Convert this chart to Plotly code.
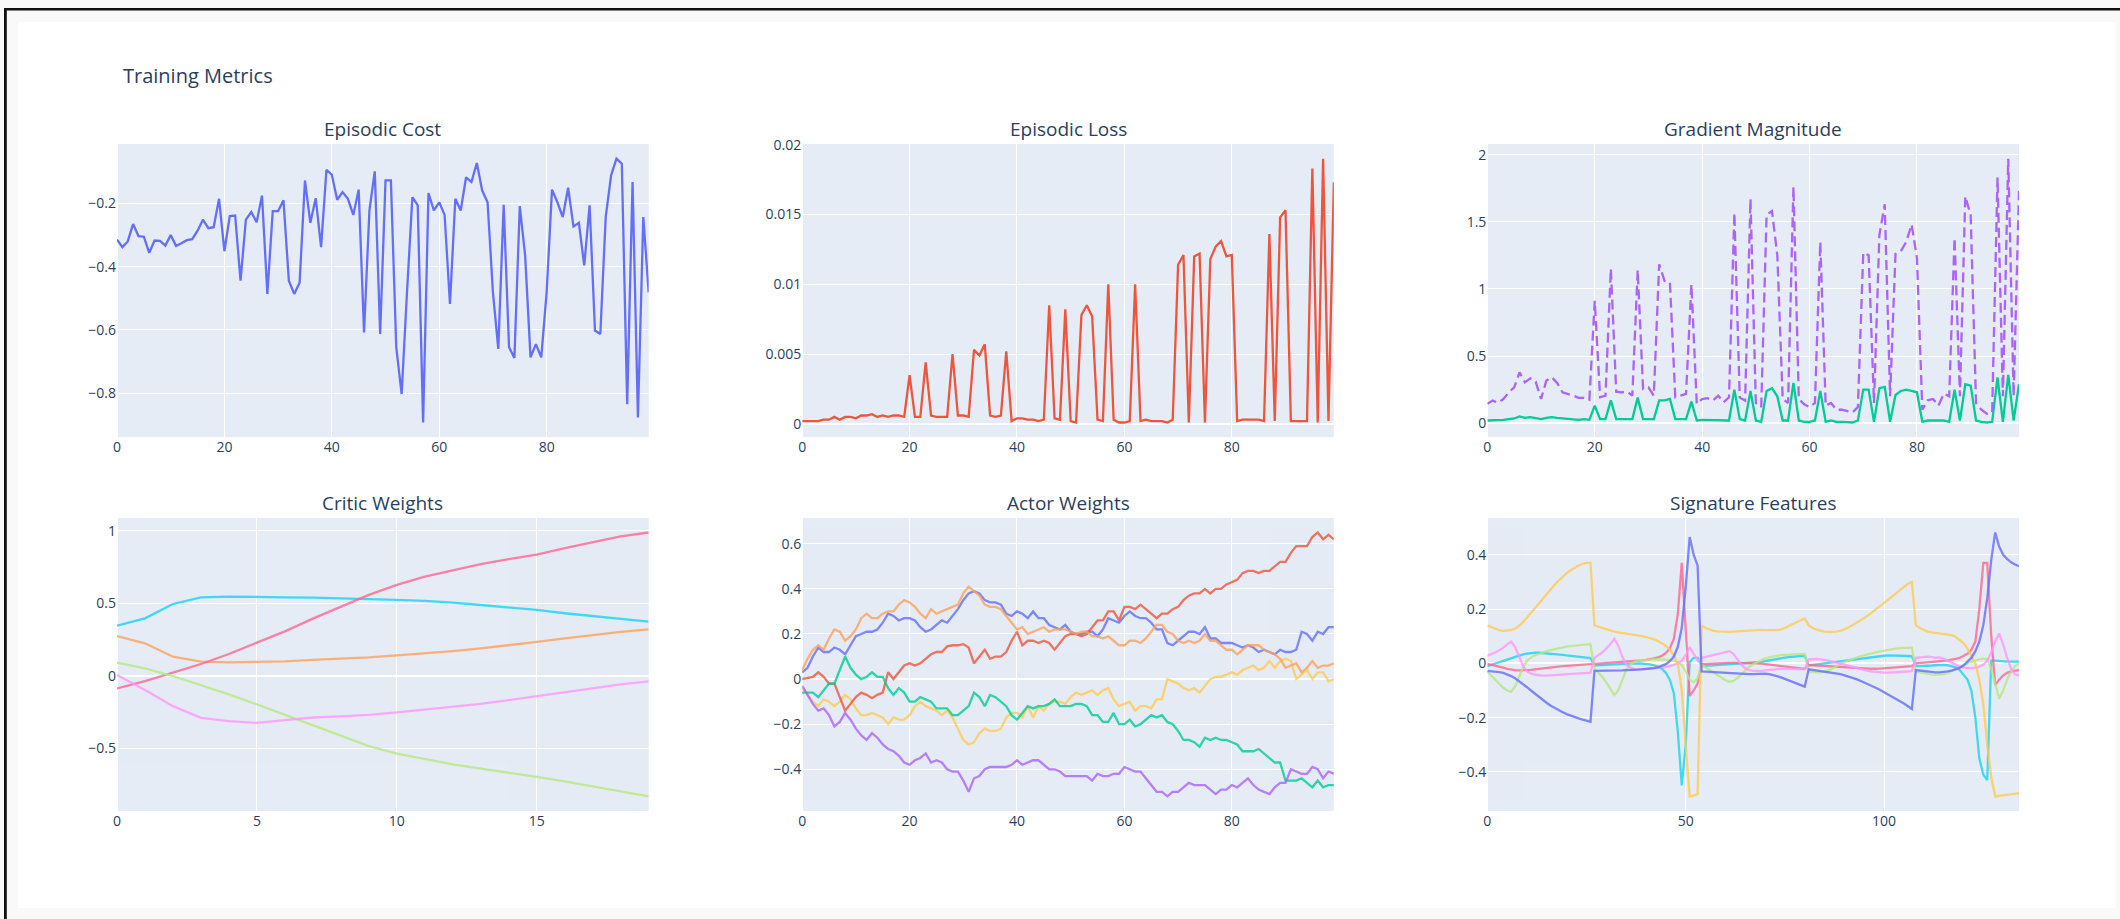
import plotly.graph_objects as go
from plotly.subplots import make_subplots

# ---------------- data ----------------
episodic_cost = [
    -0.314, -0.338, -0.32, -0.265, -0.303, -0.305, -0.356, -0.317, -0.318, -0.333,
    -0.30, -0.334, -0.326, -0.316, -0.313, -0.286, -0.251, -0.278, -0.275, -0.185,
    -0.351, -0.24, -0.238, -0.444, -0.251, -0.227, -0.259, -0.175, -0.486, -0.224,
    -0.224, -0.19, -0.444, -0.486, -0.451, -0.127, -0.261, -0.183, -0.338, -0.093,
    -0.109, -0.188, -0.164, -0.185, -0.236, -0.156, -0.608, -0.222, -0.098, -0.613,
    -0.127, -0.127, -0.655, -0.803, -0.481, -0.18, -0.206, -0.893, -0.167, -0.222,
    -0.196, -0.236, -0.518, -0.185, -0.222, -0.117, -0.132, -0.072, -0.159, -0.196,
    -0.481, -0.66, -0.204, -0.655, -0.689, -0.208, -0.365, -0.687, -0.645, -0.687,
    -0.481, -0.156, -0.196, -0.243, -0.15, -0.273, -0.261, -0.396, -0.206, -0.602,
    -0.613, -0.243, -0.111, -0.058, -0.074, -0.835, -0.132, -0.877, -0.243, -0.481,
]

episodic_loss = [
    0.0002, 0.0002, 0.0002, 0.0002, 0.0003, 0.0003, 0.0005, 0.0003, 0.0005, 0.0005,
    0.0004, 0.0006, 0.0006, 0.0007, 0.0005, 0.0006, 0.0005, 0.0006, 0.0006, 0.0005,
    0.0035, 0.0005, 0.0005, 0.0044, 0.0006, 0.0005, 0.0005, 0.0005, 0.0050, 0.0006,
    0.0006, 0.0005, 0.0053, 0.0049, 0.0057, 0.0006, 0.0005, 0.0006, 0.0052, 0.0002,
    0.0004, 0.0004, 0.0003, 0.0003, 0.0002, 0.0003, 0.0085, 0.0004, 0.0003, 0.0082,
    0.0002, 0.0001, 0.0078, 0.0085, 0.0077, 0.0003, 0.0002, 0.0100, 0.0003, 0.0001,
    0.0001, 0.0002, 0.0100, 0.0002, 0.0003, 0.0002, 0.0002, 0.0002, 0.0001, 0.0003,
    0.0114, 0.0121, 0.0001, 0.0120, 0.0122, 0.0001, 0.0118, 0.0127, 0.0131, 0.0120,
    0.0121, 0.0002, 0.0003, 0.0003, 0.0003, 0.0003, 0.0002, 0.0136, 0.0002, 0.0148,
    0.0153, 0.0002, 0.0002, 0.0002, 0.0002, 0.0183, 0.0001, 0.0190, 0.0002, 0.0173,
]

critic_grad = [
    0.02, 0.02, 0.02, 0.025, 0.03, 0.035, 0.05, 0.04, 0.045, 0.04,
    0.03, 0.04, 0.045, 0.04, 0.035, 0.03, 0.03, 0.025, 0.03, 0.025,
    0.13, 0.03, 0.03, 0.17, 0.03, 0.03, 0.03, 0.03, 0.19, 0.03,
    0.03, 0.03, 0.17, 0.17, 0.18, 0.03, 0.03, 0.03, 0.16, 0.02,
    0.025, 0.025, 0.02, 0.025, 0.02, 0.02, 0.25, 0.03, 0.02, 0.24,
    0.02, 0.01, 0.24, 0.26, 0.20, 0.02, 0.02, 0.30, 0.02, 0.01,
    0.01, 0.02, 0.24, 0.01, 0.02, 0.01, 0.01, 0.01, 0.005, 0.02,
    0.25, 0.25, 0.01, 0.26, 0.27, 0.01, 0.21, 0.24, 0.25, 0.24,
    0.23, 0.01, 0.02, 0.02, 0.02, 0.02, 0.01, 0.25, 0.02, 0.29,
    0.28, 0.02, 0.01, 0.005, 0.01, 0.34, 0.01, 0.36, 0.02, 0.29,
]

actor_grad = [
    0.144, 0.168, 0.151, 0.18, 0.23, 0.267, 0.379, 0.304, 0.334, 0.31,
    0.18, 0.317, 0.342, 0.30, 0.23, 0.218, 0.205, 0.188, 0.188, 0.173,
    0.911, 0.193, 0.205, 1.151, 0.235, 0.23, 0.235, 0.205, 1.141, 0.255,
    0.267, 0.205, 1.183, 1.06, 1.05, 0.193, 0.205, 0.218, 1.035, 0.144,
    0.18, 0.186, 0.168, 0.205, 0.156, 0.193, 1.567, 0.19, 0.168, 1.67,
    0.15, 0.12, 1.55, 1.58, 1.25, 0.18, 0.15, 1.76, 0.18, 0.14,
    0.12, 0.15, 1.35, 0.13, 0.15, 0.10, 0.10, 0.09, 0.08, 0.12,
    1.27, 1.25, 0.15, 1.40, 1.63, 0.20, 1.26, 1.28, 1.35, 1.48,
    1.23, 0.10, 0.17, 0.18, 0.13, 0.22, 0.20, 1.38, 0.20, 1.69,
    1.55, 0.15, 0.10, 0.07, 0.08, 1.83, 0.20, 1.97, 0.20, 1.73,
]

critic_w1 = [0.274, 0.224, 0.131, 0.097, 0.092, 0.094, 0.099, 0.11, 0.117, 0.127,
             0.14, 0.154, 0.17, 0.189, 0.21, 0.233, 0.258, 0.281, 0.302, 0.32]
critic_w2 = [0.346, 0.396, 0.495, 0.541, 0.546, 0.546, 0.541, 0.539, 0.535, 0.53,
             0.523, 0.516, 0.505, 0.488, 0.472, 0.454, 0.431, 0.412, 0.392, 0.373]
critic_w3 = [-0.088, -0.037, 0.021, 0.081, 0.15, 0.226, 0.306, 0.394, 0.477, 0.558,
             0.627, 0.684, 0.726, 0.77, 0.804, 0.836, 0.88, 0.919, 0.961, 0.988]
critic_w4 = [0.09, 0.051, -0.002, -0.065, -0.129, -0.198, -0.27, -0.341, -0.417, -0.486,
             -0.537, -0.576, -0.611, -0.641, -0.668, -0.698, -0.728, -0.76, -0.797, -0.832]
critic_w5 = [0.005, -0.099, -0.21, -0.29, -0.313, -0.325, -0.306, -0.288, -0.281, -0.27,
             -0.253, -0.233, -0.214, -0.194, -0.168, -0.141, -0.111, -0.085, -0.06, -0.039]

actor_w1 = [
    -0.04, -0.07, -0.10, -0.12, -0.09, -0.10, -0.12, -0.10, -0.07, -0.09,
    -0.13, -0.16, -0.16, -0.15, -0.16, -0.17, -0.20, -0.17, -0.18, -0.18,
    -0.16, -0.12, -0.10, -0.12, -0.13, -0.14, -0.16, -0.14, -0.17, -0.22,
    -0.27, -0.29, -0.28, -0.24, -0.22, -0.23, -0.23, -0.22, -0.17, -0.15,
    -0.15, -0.17, -0.12, -0.17, -0.12, -0.14, -0.11, -0.10, -0.10, -0.11,
    -0.08, -0.06, -0.07, -0.06, -0.05, -0.07, -0.05, -0.04, -0.09, -0.12,
    -0.11, -0.10, -0.14, -0.12, -0.12, -0.13, -0.09, -0.09, 0.00, -0.01,
    -0.02, -0.04, -0.05, -0.04, -0.06, -0.03, 0.00, 0.01, 0.01, 0.02,
    0.03, 0.02, 0.04, 0.05, 0.06, 0.04, 0.05, 0.08, 0.05, 0.08,
    0.09, 0.08, 0.00, 0.02, 0.04, 0.00, 0.03, 0.03, -0.01, 0.00,
]
actor_w2 = [
    0.03, 0.05, 0.10, 0.14, 0.12, 0.12, 0.14, 0.13, 0.11, 0.15,
    0.19, 0.20, 0.21, 0.21, 0.22, 0.25, 0.29, 0.28, 0.26, 0.27,
    0.27, 0.26, 0.23, 0.21, 0.22, 0.24, 0.26, 0.25, 0.28, 0.31,
    0.35, 0.38, 0.39, 0.38, 0.35, 0.34, 0.34, 0.33, 0.29, 0.28,
    0.30, 0.29, 0.27, 0.30, 0.27, 0.27, 0.24, 0.23, 0.22, 0.24,
    0.21, 0.20, 0.20, 0.21, 0.21, 0.19, 0.22, 0.27, 0.26, 0.25,
    0.28, 0.30, 0.28, 0.27, 0.27, 0.25, 0.22, 0.22, 0.16, 0.15,
    0.17, 0.19, 0.21, 0.21, 0.20, 0.23, 0.18, 0.18, 0.16, 0.16,
    0.16, 0.15, 0.14, 0.15, 0.14, 0.12, 0.13, 0.12, 0.11, 0.13,
    0.12, 0.12, 0.13, 0.21, 0.20, 0.17, 0.21, 0.20, 0.23, 0.23,
]
actor_w3 = [
    0.00, 0.005, 0.01, 0.03, 0.01, -0.02, -0.02, -0.08, -0.14, -0.11,
    -0.08, -0.06, -0.07, -0.085, -0.07, -0.06, 0.03, 0.00, 0.03, 0.06,
    0.07, 0.06, 0.07, 0.09, 0.11, 0.12, 0.12, 0.145, 0.15, 0.15,
    0.155, 0.14, 0.07, 0.10, 0.13, 0.09, 0.10, 0.10, 0.12, 0.17,
    0.21, 0.15, 0.17, 0.17, 0.16, 0.17, 0.16, 0.13, 0.16, 0.19,
    0.20, 0.20, 0.19, 0.20, 0.23, 0.26, 0.26, 0.30, 0.30, 0.26,
    0.32, 0.32, 0.31, 0.33, 0.31, 0.29, 0.27, 0.29, 0.29, 0.31,
    0.32, 0.35, 0.37, 0.38, 0.38, 0.40, 0.38, 0.40, 0.40, 0.42,
    0.43, 0.44, 0.47, 0.48, 0.48, 0.47, 0.48, 0.48, 0.50, 0.52,
    0.52, 0.56, 0.59, 0.59, 0.59, 0.63, 0.65, 0.62, 0.64, 0.62,
]
actor_w4 = [
    -0.06, -0.06, -0.06, -0.08, -0.05, -0.02, -0.02, 0.04, 0.10, 0.05,
    0.02, 0.00, 0.01, 0.03, 0.01, 0.01, -0.04, -0.07, -0.04, -0.06,
    -0.10, -0.10, -0.08, -0.09, -0.10, -0.13, -0.13, -0.13, -0.16, -0.16,
    -0.14, -0.12, -0.06, -0.08, -0.12, -0.07, -0.08, -0.10, -0.12, -0.16,
    -0.18, -0.15, -0.12, -0.13, -0.12, -0.12, -0.11, -0.09, -0.12, -0.12,
    -0.12, -0.11, -0.11, -0.12, -0.16, -0.16, -0.19, -0.19, -0.15, -0.20,
    -0.20, -0.18, -0.21, -0.20, -0.18, -0.16, -0.17, -0.16, -0.19, -0.20,
    -0.23, -0.27, -0.27, -0.28, -0.30, -0.26, -0.27, -0.26, -0.27, -0.27,
    -0.28, -0.29, -0.32, -0.32, -0.32, -0.31, -0.33, -0.35, -0.37, -0.37,
    -0.45, -0.45, -0.45, -0.44, -0.46, -0.48, -0.45, -0.48, -0.47, -0.47,
]
actor_w5 = [
    -0.03, -0.07, -0.11, -0.14, -0.13, -0.16, -0.21, -0.19, -0.15, -0.18,
    -0.22, -0.25, -0.27, -0.24, -0.26, -0.29, -0.31, -0.32, -0.34, -0.37,
    -0.38, -0.36, -0.35, -0.33, -0.37, -0.36, -0.37, -0.40, -0.41, -0.41,
    -0.45, -0.50, -0.44, -0.43, -0.40, -0.39, -0.39, -0.39, -0.39, -0.38,
    -0.36, -0.38, -0.37, -0.36, -0.36, -0.38, -0.40, -0.40, -0.41, -0.43,
    -0.43, -0.43, -0.43, -0.43, -0.45, -0.42, -0.43, -0.43, -0.42, -0.42,
    -0.39, -0.40, -0.41, -0.41, -0.44, -0.47, -0.50, -0.50, -0.52, -0.50,
    -0.50, -0.48, -0.46, -0.47, -0.47, -0.47, -0.49, -0.51, -0.49, -0.49,
    -0.47, -0.48, -0.46, -0.44, -0.47, -0.49, -0.50, -0.51, -0.48, -0.46,
    -0.46, -0.40, -0.41, -0.42, -0.42, -0.39, -0.40, -0.44, -0.41, -0.42,
]
actor_w6 = [
    0.04, 0.09, 0.13, 0.15, 0.13, 0.18, 0.22, 0.21, 0.17, 0.19,
    0.22, 0.27, 0.29, 0.27, 0.27, 0.29, 0.30, 0.30, 0.33, 0.35,
    0.34, 0.32, 0.29, 0.27, 0.31, 0.29, 0.30, 0.31, 0.32, 0.33,
    0.38, 0.41, 0.39, 0.37, 0.33, 0.32, 0.32, 0.31, 0.28, 0.25,
    0.22, 0.23, 0.20, 0.21, 0.22, 0.23, 0.21, 0.22, 0.22, 0.22,
    0.21, 0.20, 0.21, 0.21, 0.19, 0.19, 0.18, 0.19, 0.17, 0.15,
    0.15, 0.17, 0.17, 0.16, 0.18, 0.21, 0.24, 0.24, 0.21, 0.20,
    0.17, 0.16, 0.17, 0.16, 0.17, 0.20, 0.17, 0.17, 0.15, 0.13,
    0.13, 0.11, 0.13, 0.15, 0.15, 0.15, 0.13, 0.12, 0.11, 0.09,
    0.05, 0.06, 0.07, 0.03, 0.05, 0.08, 0.05, 0.06, 0.06, 0.07,
]

sig_f1 = [
    -0.01, -0.006, -0.001, 0.004, 0.009, 0.014, 0.019, 0.024, 0.029, 0.033,
    0.036, 0.038, 0.039, 0.039, 0.038, 0.037, 0.035, 0.034, 0.032, 0.031,
    0.029, 0.027, 0.026, 0.024, 0.022, 0.02, 0.019,
    -0.008, -0.008, -0.007, -0.006, -0.005, -0.004, -0.003, -0.002, -0.001, 0.0,
    0.0, 0.0, -0.001, -0.002, -0.004, -0.007, -0.012, -0.02, -0.035, -0.06,
    -0.11, -0.25, -0.45, -0.3, 0.005, 0.02, 0.02,
    -0.01, -0.009, -0.008, -0.007, -0.006, -0.005, -0.004, -0.003, -0.002, -0.001,
    0.0, 0.0, 0.0, 0.001, 0.003, 0.005, 0.008, 0.011, 0.014, 0.017,
    0.019, 0.021, 0.023, 0.025, 0.026, 0.027, 0.028,
    -0.008, -0.006, -0.004, -0.002, 0.0, 0.002, 0.004, 0.006, 0.008, 0.01,
    0.012, 0.014, 0.016, 0.018, 0.02, 0.022, 0.024, 0.026, 0.027, 0.028,
    0.029, 0.029, 0.029, 0.029, 0.028, 0.027, 0.026,
    -0.01, -0.01, -0.01, -0.009, -0.008, -0.007, -0.006, -0.006, -0.007, -0.01,
    -0.015, -0.024, -0.04, -0.06, -0.1, -0.2, -0.35, -0.41, -0.43, 0.01,
    0.01, 0.008, 0.007, 0.006, 0.006, 0.006, 0.006,
]
sig_f2 = [
    -0.002, -0.005, -0.008, -0.012, -0.016, -0.02, -0.023, -0.025, -0.026, -0.026,
    -0.025, -0.024, -0.022, -0.02, -0.018, -0.016, -0.014, -0.012, -0.011, -0.01,
    -0.009, -0.008, -0.007, -0.006, -0.005, -0.004, -0.004,
    -0.002, -0.001, 0.0, 0.001, 0.002, 0.003, 0.004, 0.005, 0.006, 0.007,
    0.008, 0.01, 0.011, 0.013, 0.015, 0.018, 0.022, 0.028, 0.038, 0.055,
    0.09, 0.18, 0.37, 0.1, -0.12, -0.1, -0.075,
    -0.003, -0.002, -0.001, 0.0, 0.001, 0.002, 0.002, 0.002, 0.002, 0.002,
    0.002, 0.001, 0.001, 0.0, 0.0, -0.001, -0.003, -0.005, -0.007, -0.009,
    -0.011, -0.013, -0.015, -0.017, -0.018, -0.019, -0.02,
    -0.006, -0.007, -0.008, -0.009, -0.01, -0.011, -0.012, -0.013, -0.014, -0.015,
    -0.016, -0.017, -0.018, -0.019, -0.019, -0.02, -0.02, -0.02, -0.019, -0.019,
    -0.018, -0.017, -0.016, -0.015, -0.014, -0.012, -0.01,
    0.0, 0.001, 0.002, 0.003, 0.004, 0.005, 0.007, 0.009, 0.011, 0.013,
    0.016, 0.02, 0.026, 0.035, 0.05, 0.08, 0.2, 0.37, 0.37, 0.1,
    -0.08, -0.06, -0.045, -0.035, -0.03, -0.028, -0.025,
]
sig_f3 = [
    -0.03, -0.045, -0.06, -0.075, -0.09, -0.1, -0.105, -0.085, -0.05, -0.015,
    0.01, 0.022, 0.03, 0.036, 0.041, 0.045, 0.049, 0.053, 0.056, 0.059,
    0.062, 0.064, 0.066, 0.068, 0.069, 0.07, 0.07,
    -0.02, -0.035, -0.05, -0.07, -0.095, -0.117, -0.1, -0.06, -0.025, -0.005,
    0.005, 0.01, 0.012, 0.013, 0.014, 0.015, 0.015, 0.015, 0.014, 0.012,
    0.01, 0.005, -0.005, -0.03, -0.06, -0.07, -0.055,
    -0.005, -0.015, -0.025, -0.035, -0.045, -0.055, -0.062, -0.068, -0.065, -0.055,
    -0.04, -0.025, -0.012, -0.003, 0.005, 0.012, 0.018, 0.022, 0.026, 0.028,
    0.03, 0.031, 0.032, 0.033, 0.034, 0.034, 0.035,
    -0.03, -0.032, -0.033, -0.033, -0.03, -0.025, -0.018, -0.01, -0.003, 0.004,
    0.01, 0.016, 0.021, 0.026, 0.03, 0.034, 0.038, 0.041, 0.044, 0.047,
    0.05, 0.052, 0.054, 0.056, 0.057, 0.058, 0.058,
    -0.03, -0.033, -0.036, -0.039, -0.041, -0.042, -0.042, -0.04, -0.036, -0.03,
    -0.022, -0.014, -0.006, 0.0, 0.006, 0.011, 0.015, 0.017, 0.015, -0.02,
    -0.08, -0.13, -0.1, -0.06, -0.03, -0.01, 0.0,
]
sig_f4 = [
    0.028, 0.033, 0.04, 0.048, 0.057, 0.07, 0.08, 0.06, 0.025, -0.01,
    -0.03, -0.038, -0.042, -0.044, -0.045, -0.045, -0.044, -0.043, -0.042, -0.041,
    -0.04, -0.039, -0.038, -0.037, -0.036, -0.035, -0.034,
    0.02, 0.03, 0.04, 0.055, 0.07, 0.09, 0.065, 0.025, -0.005, -0.015,
    -0.02, -0.021, -0.021, -0.02, -0.019, -0.018, -0.017, -0.015, -0.013, -0.01,
    -0.006, 0.0, 0.01, 0.03, 0.06, 0.035, 0.01,
    0.02, 0.023, 0.026, 0.03, 0.034, 0.038, 0.042, 0.045, 0.035, 0.015,
    -0.005, -0.018, -0.025, -0.028, -0.029, -0.028, -0.026, -0.024, -0.022, -0.021,
    -0.02, -0.02, -0.02, -0.02, -0.02, -0.021, -0.022,
    0.015, 0.016, 0.016, 0.015, 0.013, 0.01, 0.006, 0.002, -0.002, -0.006,
    -0.01, -0.014, -0.018, -0.022, -0.025, -0.028, -0.03, -0.032, -0.033, -0.034,
    -0.034, -0.034, -0.033, -0.032, -0.031, -0.03, -0.029,
    0.02, 0.022, 0.024, 0.025, 0.023, 0.02, 0.022, 0.018, 0.01, 0.002,
    -0.006, -0.012, -0.016, -0.018, -0.018, -0.016, -0.012, -0.005, 0.01, 0.04,
    0.08, 0.11, 0.07, 0.02, -0.02, -0.04, -0.045,
]
sig_f5 = [
    0.14, 0.133, 0.127, 0.122, 0.12, 0.12, 0.122, 0.128, 0.138, 0.152,
    0.168, 0.185, 0.202, 0.22, 0.238, 0.256, 0.273, 0.29, 0.305, 0.319,
    0.332, 0.343, 0.352, 0.36, 0.366, 0.37, 0.37,
    0.14, 0.135, 0.13, 0.125, 0.12, 0.117, 0.114, 0.112, 0.11, 0.108,
    0.106, 0.103, 0.1, 0.097, 0.093, 0.088, 0.082, 0.075, 0.065, 0.05,
    0.03, 0.0, -0.1, -0.3, -0.49, -0.487, -0.482,
    0.14, 0.13, 0.125, 0.12, 0.118, 0.117, 0.116, 0.116, 0.117, 0.118,
    0.119, 0.12, 0.121, 0.122, 0.123, 0.123, 0.122, 0.122, 0.121, 0.122,
    0.125, 0.13, 0.138, 0.145, 0.15, 0.158, 0.165,
    0.14, 0.13, 0.124, 0.12, 0.117, 0.116, 0.116, 0.117, 0.12, 0.125,
    0.132, 0.14, 0.148, 0.157, 0.167, 0.177, 0.188, 0.199, 0.21, 0.222,
    0.234, 0.246, 0.258, 0.27, 0.282, 0.293, 0.3,
    0.14, 0.13, 0.122, 0.117, 0.114, 0.112, 0.111, 0.11, 0.108, 0.104,
    0.098, 0.088, 0.075, 0.055, 0.03, 0.0, -0.06, -0.15, -0.3, -0.42,
    -0.49, -0.488, -0.486, -0.484, -0.482, -0.48, -0.478,
]
sig_f6 = [
    -0.028, -0.029, -0.03, -0.032, -0.035, -0.04, -0.047, -0.055, -0.065, -0.076,
    -0.088, -0.1, -0.112, -0.124, -0.135, -0.146, -0.156, -0.165, -0.173, -0.18,
    -0.187, -0.193, -0.198, -0.203, -0.207, -0.211, -0.215,
    -0.028, -0.028, -0.028, -0.028, -0.027, -0.027, -0.026, -0.026, -0.025, -0.025,
    -0.024, -0.023, -0.022, -0.021, -0.02, -0.018, -0.015, -0.01, -0.003, 0.008,
    0.025, 0.06, 0.13, 0.28, 0.465, 0.4, 0.36,
    -0.03, -0.031, -0.032, -0.033, -0.034, -0.035, -0.036, -0.037, -0.038, -0.039,
    -0.04, -0.04, -0.04, -0.04, -0.039, -0.038, -0.038, -0.04, -0.043, -0.047,
    -0.052, -0.058, -0.064, -0.07, -0.075, -0.08, -0.086,
    -0.022, -0.024, -0.026, -0.028, -0.03, -0.032, -0.034, -0.037, -0.04, -0.044,
    -0.048, -0.053, -0.058, -0.064, -0.07, -0.077, -0.084, -0.091, -0.098, -0.106,
    -0.114, -0.122, -0.13, -0.139, -0.148, -0.158, -0.168,
    -0.025, -0.027, -0.029, -0.031, -0.032, -0.033, -0.033, -0.032, -0.03, -0.027,
    -0.023, -0.017, -0.008, 0.005, 0.02, 0.045, 0.08, 0.14, 0.24, 0.38,
    0.482, 0.43, 0.4, 0.385, 0.372, 0.364, 0.358,
]

subplot_titles = ["Episodic Cost", "Episodic Loss", "Gradient Magnitude",
                  "Critic Weights", "Actor Weights", "Signature Features"]

# plotly default colour cycle, continued across all traces
palette = ["#636efa", "#EF553B", "#00cc96", "#ab63fa", "#FFA15A",
           "#19d3f3", "#FF6692", "#B6E880", "#FF97FF", "#FECB52"]

# ---------------- layout geometry ----------------
W, H = 2120, 919
ML, MR, MT, MB = 117, 101, 144, 108
PW, PH = W - ML - MR, H - MT - MB


def px(x):
    return (x - ML) / PW


def py(y):
    return (H - MB - y) / PH


fig = make_subplots(rows=2, cols=3, subplot_titles=subplot_titles,
                    horizontal_spacing=0.0807, vertical_spacing=0.121)

color_idx = [0]
LINE_W = 2.3


def add_line(values, row, col, dash=None, opacity=1.0):
    c = palette[color_idx[0] % len(palette)]
    color_idx[0] += 1
    fig.add_trace(go.Scatter(x=list(range(len(values))), y=values, mode="lines",
                             line=dict(color=c, width=LINE_W, dash=dash),
                             opacity=opacity, showlegend=False),
                  row=row, col=col)


add_line(episodic_cost, 1, 1)
add_line(episodic_loss, 1, 2)
add_line(critic_grad, 1, 3)
add_line(actor_grad, 1, 3, dash="10px,5px")
for s in [critic_w1, critic_w2, critic_w3, critic_w4, critic_w5]:
    add_line(s, 2, 1, opacity=0.8)
for s in [actor_w1, actor_w2, actor_w3, actor_w4, actor_w5, actor_w6]:
    add_line(s, 2, 2, opacity=0.8)
for s in [sig_f1, sig_f2, sig_f3, sig_f4, sig_f5, sig_f6]:
    add_line(s, 2, 3, opacity=0.8)

fig.update_xaxes(tickfont=dict(size=14), gridwidth=1.2)
fig.update_yaxes(tickfont=dict(size=14), gridwidth=1.2)
fig.update_xaxes(dtick=50, row=2, col=3)
for ann in fig.layout.annotations:
    ann.font = dict(size=19, color="#2a3f5f")

# page frame around the figure
gray = "#f9f9f9"
frame = [
    (0, W, 0, 22, gray), (0, 18, 0, H, gray), (2116, W, 0, H, gray), (0, W, 908, H, gray),
    (4, W, 8, 10.5, "#111111"), (4, 6.8, 8, H, "#111111"),
]
for x0, x1, y0, y1, fc in frame:
    fig.add_shape(type="rect", xref="paper", yref="paper",
                  x0=px(x0), x1=px(x1), y0=py(y1), y1=py(y0),
                  fillcolor=fc, line=dict(width=0), layer="above")

fig.update_layout(
    width=W, height=H,
    margin=dict(l=ML, r=MR, t=MT, b=MB),
    paper_bgcolor="white",
    showlegend=False,
    title=dict(text="Training Metrics", x=123 / W, xanchor="left", xref="container",
               y=1 - 76 / H, yanchor="middle", yref="container",
               font=dict(size=20, color="#2a3f5f")),
)

fig.write_html("out.html")
